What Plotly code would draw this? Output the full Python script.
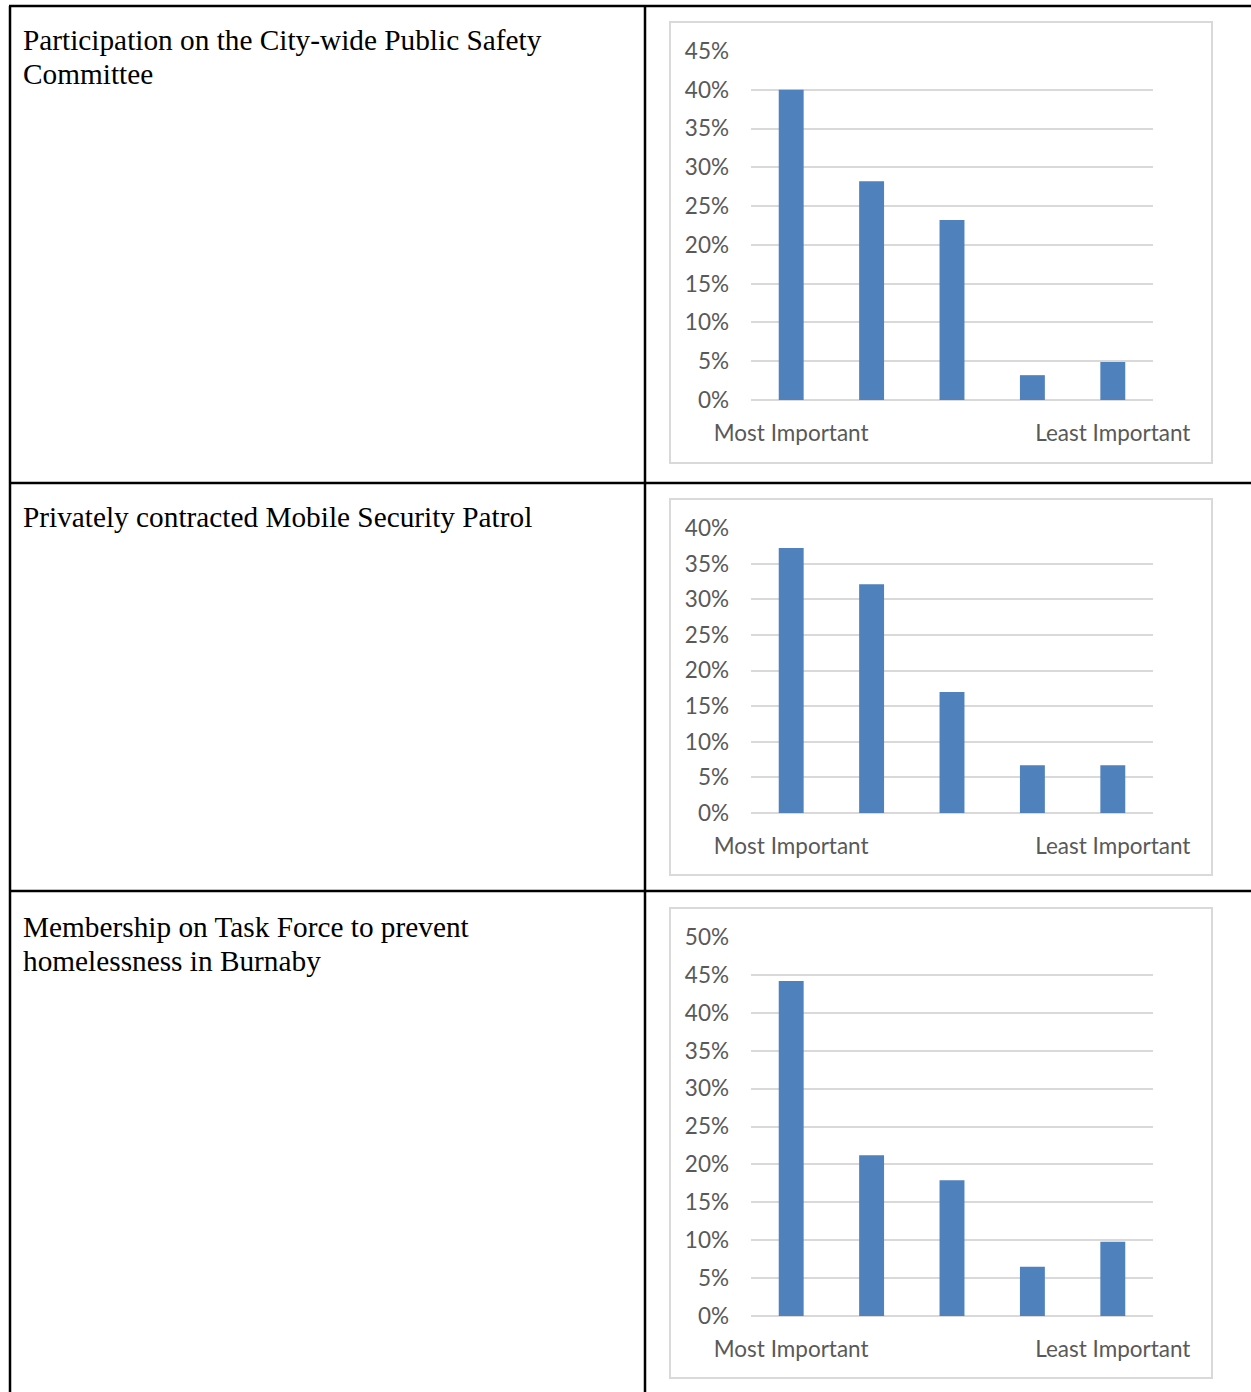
import plotly.graph_objects as go

# Rank categories on the horizontal axis (1 = most important, 5 = least important)
ranks = ["1", "2", "3", "4", "5"]
rank_labels = ["Most Important", "", "", "", "Least Important"]

# Row captions (one list per table row, one entry per text line)
row_titles = [
    ["Participation on the City-wide Public Safety", "Committee"],
    ["Privately contracted Mobile Security Patrol"],
    ["Membership on Task Force to prevent", "homelessness in Burnaby"],
]

# Share of respondents (%) per rank
public_safety_committee = [40.0, 28.2, 23.2, 3.2, 4.9]
mobile_security_patrol = [37.2, 32.1, 17.0, 6.7, 6.7]
homelessness_task_force = [44.2, 21.2, 17.9, 6.5, 9.8]

# Upper end of each chart's value axis (%)
axis_max = [45, 40, 50]

series = [public_safety_committee, mobile_security_patrol, homelessness_task_force]

W, H = 1251, 1392


def px(x):
    return x / W


def py(y):
    return 1 - y / H


BAR_COLOR = "#4F81BD"
GRID = "#D9D9D9"
TICK_COLOR = "#595959"
TICK_FONT = dict(family="Lato, 'Open Sans', sans-serif", size=22.5, color=TICK_COLOR)

# pixel geometry of each chart: plot area top/bottom, frame top/bottom
plot_rows = [(51, 400), (528, 813), (937, 1316)]
frame_rows = [(22, 463), (499, 875), (908, 1378)]
text_rows = [40, 517, 927]
PLOT_X = (751, 1153)
FRAME_X = (670, 1212)

fig = go.Figure()
layout_axes = {}

for i, (vals, (top, bottom), ymax) in enumerate(zip(series, plot_rows, axis_max)):
    n = "" if i == 0 else str(i + 1)
    fig.add_trace(go.Bar(
        x=ranks, y=vals, marker=dict(color=BAR_COLOR, line=dict(width=0)),
        xaxis="x" + n, yaxis="y" + n, hoverinfo="y", showlegend=False,
    ))
    layout_axes["xaxis" + n] = dict(
        domain=[px(PLOT_X[0]), px(PLOT_X[1])], anchor="y" + n, type="category",
        tickvals=ranks, ticktext=rank_labels, showgrid=False, showline=False,
        ticks="", tickfont=TICK_FONT, ticklabelstandoff=17, fixedrange=True,
        automargin=False,
    )
    layout_axes["yaxis" + n] = dict(
        domain=[py(bottom), py(top)], anchor="x" + n, range=[0, ymax],
        dtick=5, ticksuffix="%", showgrid=True, gridcolor=GRID, gridwidth=1.5,
        zeroline=True, zerolinecolor=GRID, zerolinewidth=1.5, showline=False,
        ticks="", tickfont=TICK_FONT, ticklabelstandoff=21, fixedrange=True,
        automargin=False,
    )

shapes = []
# chart frames
for top, bottom in frame_rows:
    shapes.append(dict(type="rect", xref="paper", yref="paper",
                       x0=px(FRAME_X[0]), x1=px(FRAME_X[1]), y0=py(bottom), y1=py(top),
                       line=dict(color=GRID, width=2), fillcolor="rgba(0,0,0,0)", layer="below"))

# table rules
LINE = dict(color="black", width=2.5)
for y in (6, 483, 891):
    shapes.append(dict(type="line", xref="paper", yref="paper",
                       x0=px(9), x1=1, y0=py(y), y1=py(y), line=LINE))
for x in (10, 645):
    shapes.append(dict(type="line", xref="paper", yref="paper",
                       x0=px(x), x1=px(x), y0=py(6), y1=0, line=LINE))

annotations = []
for lines, y0 in zip(row_titles, text_rows):
    for k, line in enumerate(lines):
        annotations.append(dict(
            text=line, xref="paper", yref="paper", x=px(21), y=py(y0 + 34 * k),
            xanchor="left", yanchor="middle", showarrow=False,
            font=dict(family="Liberation Serif, 'Times New Roman', serif", size=29.3, color="black"),
        ))

fig.update_layout(
    width=W, height=H, margin=dict(l=0, r=0, t=0, b=0, pad=0, autoexpand=False),
    paper_bgcolor="white", plot_bgcolor="white",
    bargap=0.69, shapes=shapes, annotations=annotations,
    **layout_axes,
)

fig.write_html("out.html", config=dict(displayModeBar=False))
